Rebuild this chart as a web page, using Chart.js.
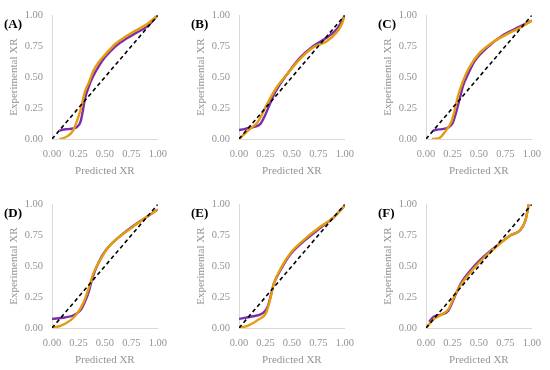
<!DOCTYPE html>
<html>
<head>
<meta charset="utf-8">
<script src="https://cdn.jsdelivr.net/npm/chart.js@4/dist/chart.umd.min.js"></script>
<style>
  html, body { margin: 0; padding: 0; background: #fff; overflow: hidden; }
  #wrap { position: relative; width: 550px; height: 370px; }
  .panel { position: absolute; width: 176px; height: 180px; }
  .tag { position: absolute; left: 4px; top: 16px; font: bold 13px "Liberation Serif", serif; color: #000; }
</style>
</head>
<body>
<div id="wrap">
  <div class="panel" style="left:0;top:0"><canvas id="pA"></canvas><div class="tag">(A)</div></div>
  <div class="panel" style="left:187px;top:0"><canvas id="pB"></canvas><div class="tag">(B)</div></div>
  <div class="panel" style="left:374px;top:0"><canvas id="pC"></canvas><div class="tag">(C)</div></div>
  <div class="panel" style="left:0;top:189px"><canvas id="pD"></canvas><div class="tag">(D)</div></div>
  <div class="panel" style="left:187px;top:189px"><canvas id="pE"></canvas><div class="tag">(E)</div></div>
  <div class="panel" style="left:374px;top:189px"><canvas id="pF"></canvas><div class="tag">(F)</div></div>
</div>
<script>
// values (predicted XR -> experimental XR)
const xTicks = [0, 0.25, 0.5, 0.75, 1];
const diagonalX = [0, 1];
const diagonalY = [0, 1];

const aPurpleX = [0.07, 0.1, 0.15, 0.2, 0.24, 0.27, 0.29, 0.31, 0.35, 0.39, 0.45, 0.5, 0.6, 0.7, 0.8, 0.9, 1.0];
const aPurpleY = [0.067, 0.075, 0.08, 0.085, 0.1, 0.14, 0.22, 0.32, 0.43, 0.51, 0.6, 0.66, 0.75, 0.81, 0.86, 0.91, 1.0];
const aOrangeX = [0.07, 0.1, 0.15, 0.2, 0.25, 0.28, 0.31, 0.35, 0.39, 0.45, 0.5, 0.6, 0.7, 0.8, 0.9, 1.0];
const aOrangeY = [0, 0.005, 0.025, 0.07, 0.18, 0.27, 0.38, 0.46, 0.55, 0.63, 0.68, 0.77, 0.83, 0.88, 0.93, 1.0];

const bPurpleX = [0, 0.05, 0.1, 0.15, 0.2, 0.24, 0.3, 0.35, 0.46, 0.58, 0.7, 0.83, 0.92, 0.97, 1.0];
const bPurpleY = [0.072, 0.08, 0.09, 0.1, 0.12, 0.18, 0.3, 0.39, 0.53, 0.66, 0.75, 0.82, 0.885, 0.95, 1.0];
const bOrangeX = [0, 0.09, 0.18, 0.27, 0.35, 0.46, 0.58, 0.7, 0.83, 0.92, 0.97, 1.0];
const bOrangeY = [0, 0.072, 0.14, 0.29, 0.41, 0.53, 0.65, 0.74, 0.79, 0.86, 0.925, 1.0];

const cPurpleX = [0.065, 0.1, 0.15, 0.21, 0.25, 0.28, 0.32, 0.35, 0.4, 0.46, 0.58, 0.73, 0.89, 1.0];
const cPurpleY = [0.067, 0.075, 0.08, 0.093, 0.125, 0.2, 0.33, 0.43, 0.53, 0.63, 0.74, 0.84, 0.91, 0.957];
const cOrangeX = [0.055, 0.12, 0.19, 0.24, 0.27, 0.3, 0.35, 0.41, 0.5, 0.61, 0.77, 0.89, 1.0];
const cOrangeY = [0, 0.005, 0.07, 0.14, 0.23, 0.34, 0.47, 0.58, 0.69, 0.77, 0.85, 0.9, 0.957];

const dPurpleX = [0, 0.12, 0.21, 0.27, 0.31, 0.35, 0.38, 0.44, 0.51, 0.64, 0.76, 0.88, 1.0];
const dPurpleY = [0.074, 0.085, 0.105, 0.145, 0.21, 0.3, 0.4, 0.53, 0.63, 0.74, 0.82, 0.89, 0.958];
const dOrangeX = [0, 0.086, 0.18, 0.24, 0.3, 0.35, 0.39, 0.45, 0.53, 0.64, 0.76, 0.88, 1.0];
const dOrangeY = [0, 0.02, 0.066, 0.12, 0.21, 0.33, 0.44, 0.54, 0.65, 0.74, 0.815, 0.89, 0.958];

const ePurpleX = [0, 0.12, 0.225, 0.27, 0.3, 0.33, 0.4, 0.49, 0.61, 0.77, 0.89, 1.0];
const ePurpleY = [0.074, 0.093, 0.12, 0.17, 0.26, 0.36, 0.48, 0.6, 0.7, 0.81, 0.89, 0.99];
const eOrangeX = [0, 0.086, 0.18, 0.26, 0.3, 0.33, 0.4, 0.49, 0.61, 0.77, 0.89, 1.0];
const eOrangeY = [0, 0.02, 0.066, 0.13, 0.25, 0.36, 0.49, 0.61, 0.71, 0.82, 0.89, 0.99];

const fPurpleX = [0.03, 0.07, 0.15, 0.21, 0.27, 0.33, 0.43, 0.55, 0.67, 0.8, 0.89, 0.94, 0.96, 0.97];
const fPurpleY = [0.05, 0.09, 0.11, 0.14, 0.25, 0.36, 0.475, 0.58, 0.665, 0.75, 0.79, 0.87, 0.95, 1.0];
const fOrangeX = [0, 0.07, 0.15, 0.21, 0.27, 0.33, 0.43, 0.55, 0.67, 0.8, 0.89, 0.94, 0.96, 0.97];
const fOrangeY = [0, 0.07, 0.11, 0.15, 0.26, 0.35, 0.46, 0.57, 0.66, 0.75, 0.79, 0.87, 0.95, 1.0];

const toPoints = (xs, ys) => xs.map((x, i) => ({ x: x, y: ys[i] }));

function makePanel(id, purpleX, purpleY, orangeX, orangeY) {
    const axisFont = { family: '"Liberation Serif", serif', size: 10.5 };
    const titleFont = { family: '"Liberation Serif", serif', size: 11 };
    new Chart(document.getElementById(id), {
        type: 'scatter',
        data: {
            datasets: [
                {
                    label: 'y = x',
                    data: toPoints(diagonalX, diagonalY),
                    showLine: true,
                    borderColor: '#000000',
                    borderWidth: 1.6,
                    borderDash: [4, 3],
                    pointRadius: 0,
                    order: 0,
                },
                {
                    label: 'model 2',
                    data: toPoints(orangeX, orangeY),
                    showLine: true,
                    borderColor: '#E59D0E',
                    borderWidth: 2.4,
                    cubicInterpolationMode: 'monotone',
                    pointRadius: 0,
                    order: 1,
                },
                {
                    label: 'model 1',
                    data: toPoints(purpleX, purpleY),
                    showLine: true,
                    borderColor: '#7A2DAF',
                    borderWidth: 2.4,
                    cubicInterpolationMode: 'monotone',
                    pointRadius: 0,
                    order: 2,
                },
            ],
        },
        options: {
            responsive: true,
            maintainAspectRatio: false,
            animation: false,
            layout: { padding: { left: 0, right: 15, top: 14, bottom: 0 } },
            plugins: { legend: { display: false }, tooltip: { enabled: false } },
            scales: {
                x: {
                    type: 'linear',
                    min: 0,
                    max: 1,
                    afterBuildTicks: (scale) => { scale.ticks = xTicks.map(v => ({ value: v })); },
                    afterFit: (scale) => { scale.height = 41; },
                    grid: { drawOnChartArea: false, drawTicks: false },
                    border: { color: '#D9D9D9', width: 1 },
                    ticks: {
                        padding: 9,
                        maxRotation: 0,
                        autoSkip: false,
                        color: '#949494',
                        font: axisFont,
                        callback: (v) => Number(v).toFixed(2),
                    },
                    title: {
                        display: true,
                        text: 'Predicted XR',
                        color: '#949494',
                        font: titleFont,
                        padding: { top: 0, bottom: 2 },
                    },
                },
                y: {
                    type: 'linear',
                    min: 0,
                    max: 1,
                    afterBuildTicks: (scale) => { scale.ticks = xTicks.map(v => ({ value: v })); },
                    afterFit: (scale) => { scale.width = 52; },
                    grid: { drawOnChartArea: false, drawTicks: false },
                    border: { color: '#D9D9D9', width: 1 },
                    ticks: {
                        padding: 9,
                        color: '#949494',
                        font: axisFont,
                        callback: (v) => Number(v).toFixed(2),
                    },
                    title: {
                        display: true,
                        text: 'Experimental XR',
                        color: '#949494',
                        font: titleFont,
                        padding: { top: 8, bottom: 0 },
                    },
                },
            },
        },
    });
}

makePanel('pA', aPurpleX, aPurpleY, aOrangeX, aOrangeY);
makePanel('pB', bPurpleX, bPurpleY, bOrangeX, bOrangeY);
makePanel('pC', cPurpleX, cPurpleY, cOrangeX, cOrangeY);
makePanel('pD', dPurpleX, dPurpleY, dOrangeX, dOrangeY);
makePanel('pE', ePurpleX, ePurpleY, eOrangeX, eOrangeY);
makePanel('pF', fPurpleX, fPurpleY, fOrangeX, fOrangeY);
</script>
</body>
</html>
